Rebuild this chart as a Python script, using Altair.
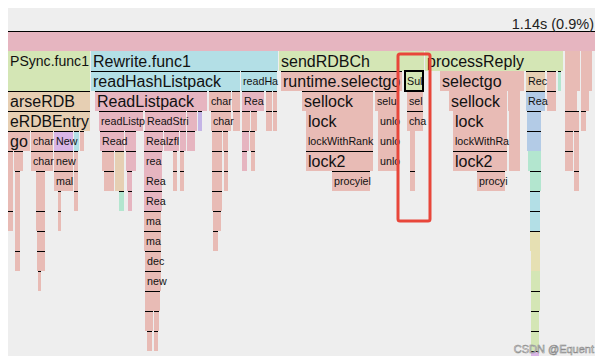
import altair as alt
import pandas as pd

# Flame-graph frames per depth: (start, end, label, package kind, separate call -> top line)
ROW0 = [(0, 597, "", "pk", 1)]
ROW1 = [(0, 90, "PSync.func1", "grn", 0), (91, 278, "Rewrite.func1", "blu", 0),
        (279, 424, "sendRDBCh", "grn", 0), (425, 563, "processReply", "grn", 0),
        (565, 580, "", "rt", 0), (581, 592, "", "rt", 0)]
ROW2 = [(0, 90, "", "grn", 0), (91, 240, "readHashListpack", "blu", 1), (241, 277, "readHa", "blu", 1),
        (281, 402, "runtime.selectgo", "rt", 1), (405, 423, "Sul", "grn", 1),
        (440, 524, "selectgo", "rt", 0), (526, 545, "Rec", "tan", 1), (547, 556, "", "rt", 1),
        (558, 561, "", "mint", 1), (565, 580, "", "rt", 0), (581, 592, "", "rt", 0)]
ROW3 = [(0, 90, "arseRDB", "tan", 1), (95, 207, "ReadListpack", "pk", 1), (209, 231, "char", "rt", 1),
        (232, 240, "", "rt", 1), (242, 264, "Rea", "pk", 1), (266, 272, "", "rt", 1), (273, 277, "", "rt", 1),
        (302, 373, "sellock", "rt", 1), (375, 397, "selu", "rt", 1), (407, 423, "sel", "rt", 1),
        (449, 507, "sellock", "rt", 0), (508, 520, "", "rt", 0), (526, 545, "Rea", "sky", 1),
        (547, 556, "", "rt", 1), (565, 577, "", "rt", 0), (581, 589, "", "rt", 0)]
ROW4 = [(0, 90, "eRDBEntry", "tan", 1), (99, 143, "readListp", "pk", 1), (145, 186, "ReadStri", "pk", 1),
        (187, 197, "", "pk", 1), (198, 202, "", "pur", 1), (211, 231, "char", "rt", 1),
        (233, 240, "", "rt", 1), (242, 250, "", "rt", 1), (251, 257, "", "rt", 1),
        (266, 272, "", "rt", 1), (273, 277, "", "rt", 1), (306, 373, "lock", "rt", 0),
        (378, 397, "unlo", "rt", 0), (407, 423, "cha", "rt", 1), (453, 507, "lock", "rt", 0),
        (509, 520, "", "rt", 0), (527, 541, "", "sky", 1), (565, 579, "", "rt", 1), (581, 586, "", "rt", 1)]
ROW5 = [(0, 30, "go", "rt", 1), (31, 53, "char", "rt", 1), (54, 73, "New", "lav", 1), (74, 79, "", "blu", 1),
        (80, 84, "", "rt", 1), (100, 124, "Read", "pk", 1), (125, 136, "", "pk", 1), (144, 163, "Rea", "pk", 1),
        (164, 179, "lzfl", "pk", 1), (180, 186, "", "pk", 1), (187, 195, "", "pk", 1), (212, 222, "", "rt", 1),
        (223, 228, "", "rt", 1), (242, 249, "", "pk", 1), (250, 255, "", "rt", 1),
        (306, 373, "lockWithRank", "rt", 0), (378, 397, "unlo", "rt", 0), (410, 415, "", "rt", 0),
        (453, 507, "lockWithRank", "rt", 0), (509, 520, "", "rt", 0), (527, 541, "", "sky", 1),
        (565, 573, "", "rt", 1), (574, 579, "", "rt", 1)]
ROW6 = [(0, 1, "", "rt", 1), (3, 13, "", "rt", 1), (14, 23, "", "rt", 1), (31, 53, "char", "rt", 1),
        (54, 73, "new", "rt", 1), (74, 78, "", "rt", 1), (102, 114, "", "rt", 1), (115, 124, "", "tan", 1),
        (126, 136, "", "pk", 1), (144, 162, "rea", "pk", 1), (173, 177, "", "rt", 1), (180, 184, "", "rt", 1),
        (212, 222, "", "rt", 1), (224, 228, "", "rt", 1), (242, 247, "", "pk", 1), (251, 255, "", "rt", 1),
        (306, 373, "lock2", "rt", 1), (378, 397, "unlo", "rt", 0), (410, 415, "", "rt", 0),
        (453, 507, "lock2", "rt", 1), (509, 520, "", "rt", 0), (528, 541, "", "mint", 0),
        (565, 573, "", "rt", 1), (574, 579, "", "rt", 0)]
ROW7 = [(0, 1, "", "rt", 1), (3, 13, "", "rt", 0), (15, 20, "", "rt", 1), (36, 45, "", "rt", 1),
        (54, 73, "mal", "rt", 1), (74, 78, "", "rt", 1), (104, 114, "", "rt", 1), (115, 124, "", "tan", 0),
        (127, 132, "", "pk", 1), (144, 162, "Rea", "pk", 0), (173, 177, "", "rt", 1), (180, 184, "", "rt", 1),
        (212, 222, "", "rt", 1), (224, 228, "", "rt", 1), (332, 370, "procyield", "rt", 1),
        (410, 415, "", "rt", 1), (477, 505, "procyield", "rt", 1), (530, 541, "", "mint", 1),
        (574, 579, "", "rt", 1)]
ROW8 = [(0, 1, "", "rt", 1), (3, 13, "", "rt", 0), (15, 20, "", "rt", 0), (36, 45, "", "rt", 0),
        (58, 61, "", "rt", 1), (74, 78, "", "rt", 1), (119, 124, "", "mint", 1), (128, 132, "", "pk", 1),
        (144, 162, "Rea", "pk", 1), (212, 222, "", "rt", 1), (530, 540, "", "blu", 1)]
ROW9 = [(0, 1, "", "rt", 1), (3, 13, "", "rt", 1), (15, 20, "", "rt", 0), (36, 45, "", "rt", 1),
        (58, 61, "", "rt", 1), (144, 161, "ma", "rt", 1), (213, 221, "", "rt", 1), (530, 540, "", "blu", 1)]
ROW10 = [(15, 20, "", "rt", 0), (37, 45, "", "rt", 1), (144, 161, "ma", "rt", 1), (213, 218, "", "rt", 1),
         (530, 540, "", "yel", 1)]
ROW11 = [(15, 20, "", "rt", 1), (37, 45, "", "rt", 1), (145, 161, "dec", "rt", 1), (531, 540, "", "yel", 0)]
ROW12 = [(38, 41, "", "rt", 1), (145, 161, "new", "rt", 1), (531, 540, "", "grn", 0)]
ROW13 = [(145, 160, "", "rt", 1), (531, 540, "", "grn", 1)]
ROW14 = [(145, 153, "", "rt", 1), (154, 159, "", "rt", 1), (531, 539, "", "grn", 1)]
ROW15 = [(147, 152, "", "rt", 1), (154, 158, "", "rt", 1), (531, 539, "", "grn", 1)]
ROW16 = [(531, 539, "", "lav", 1)]
ROWS = [ROW0, ROW1, ROW2, ROW3, ROW4, ROW5, ROW6, ROW7, ROW8, ROW9, ROW10,
        ROW11, ROW12, ROW13, ROW14, ROW15, ROW16]

SELECTED = (2, "Sul")
HEADER = "1.14s (0.9%)"
WATERMARK = "CSDN @Equent"
HIGHLIGHT = {"x0": 398, "x1": 430, "d0": 1.15, "d1": 9.5}

KIND_COLORS = {
    "pk": "#e6b5c0", "rt": "#e8bbb5", "grn": "#d4e6b5", "blu": "#b3dfe6", "tan": "#e6cfb3",
    "lav": "#d9b5e6", "sky": "#b3cbe6", "mint": "#b3e6cf", "yel": "#e6e0b3", "pur": "#c4b5e6",
}

# visible window of the graph (sample units)
X_LO, X_HI = 8, 595
D_LO, D_HI = -1.15, 16.25

# Arial-like advance widths (per 1000 em) for label fitting
AW = {c: 556 for c in "abdeghnopqu0123456789"}
AW.update({"c": 500, "k": 500, "s": 500, "v": 500, "x": 500, "y": 500, "z": 500,
           "f": 278, "t": 278, "i": 222, "j": 222, "l": 222, "r": 333, "m": 833, "w": 722,
           ".": 278, " ": 278, "(": 333, ")": 333, "%": 889, "@": 1015})
for ch in "ABEKPSVXY":
    AW[ch] = 667
for ch in "CDHNRU":
    AW[ch] = 722
AW.update({"F": 611, "T": 611, "Z": 611, "G": 778, "O": 778, "Q": 778, "I": 278, "J": 500,
           "L": 556, "M": 833, "W": 944})
BIG, SMALL = 16, 10.7


def text_w(s, fs):
    return sum(AW.get(c, 556) for c in s) * fs / 1000.0


def fit_label(label, width):
    if not label:
        return "", SMALL
    avail = width - 3
    if text_w(label, BIG) <= avail:
        fs = BIG
    elif width >= 80:
        fs = max(13.0, min(BIG, BIG * avail / text_w(label, BIG)))
    else:
        fs = SMALL
    out, cum = "", 0.0
    for c in label:
        w = AW.get(c, 556) * fs / 1000.0
        if cum + 0.3 * w > avail + 2:
            break
        out += c
        cum += w
    return out, fs


recs = []
for d, row in enumerate(ROWS):
    for (s, e, lab, kind, call) in row:
        lx = max(s, X_LO)
        shown, fs = fit_label(lab, e - lx)
        recs.append(dict(start=s, end=e, depth=d, depth2=d + 1, mid=d + 0.5, lx=lx, label=lab,
                         shown=shown, fs=fs, kind=kind, call=call,
                         sel=int((d, lab) == SELECTED)))
df = pd.DataFrame(recs)

W_PX, H_PX = X_HI - X_LO, 348
xs = alt.Scale(domain=[X_LO, X_HI], nice=False, zero=False)
ys = alt.Scale(domain=[D_LO, D_HI], reverse=True, nice=False, zero=False)

base = alt.Chart(df)
X = alt.X("start:Q", scale=xs, axis=None)
Y = alt.Y("depth:Q", scale=ys, axis=None)

boxes = base.mark_rect(clip=True).encode(
    x=X, x2="end:Q", y=Y, y2="depth2:Q",
    color=alt.Color("kind:N", scale=alt.Scale(domain=list(KIND_COLORS), range=list(KIND_COLORS.values())),
                    legend=None),
)
tops = base.transform_filter("datum.call == 1").mark_rule(color="#000000", strokeWidth=1, yOffset=0.5,
                                                           clip=True).encode(x=X, x2="end:Q", y=Y)
selbox = base.transform_filter("datum.sel == 1").mark_rect(filled=False, stroke="#000000", strokeWidth=2,
                                                           clip=True).encode(x=X, x2="end:Q", y=Y, y2="depth2:Q")
labels = base.transform_filter("datum.shown != ''").mark_text(
    align="left", baseline="middle", dx=2, dy=1, font="Liberation Sans", color="#111111", clip=True
).encode(x=alt.X("lx:Q", scale=xs, axis=None), y=alt.Y("mid:Q", scale=ys, axis=None),
         text="shown:N", size=alt.Size("fs:Q", scale=None))

hl = alt.Chart(pd.DataFrame([HIGHLIGHT])).mark_rect(filled=False, stroke="#e8463a", strokeWidth=3,
                                                    cornerRadius=2).encode(
    x=alt.X("x0:Q", scale=xs, axis=None), x2="x1:Q",
    y=alt.Y("d0:Q", scale=ys, axis=None), y2="d1:Q")

header = alt.Chart(pd.DataFrame({"t": [HEADER], "x": [594], "d": [-0.125]})).mark_text(
    align="right", baseline="alphabetic", font="Liberation Sans", fontSize=14.5, color="#222222"
).encode(x=alt.X("x:Q", scale=xs, axis=None), y=alt.Y("d:Q", scale=ys, axis=None), text="t:N")

wm = alt.Chart(pd.DataFrame({"t": [WATERMARK], "x": [594], "d": [16.1]})).mark_text(
    align="right", baseline="alphabetic", font="Liberation Sans", fontSize=11, color="#ffffff",
    stroke="#8a8a8a", strokeWidth=0.6
).encode(x=alt.X("x:Q", scale=xs, axis=None), y=alt.Y("d:Q", scale=ys, axis=None), text="t:N")

chart = alt.layer(boxes, tops, selbox, labels, hl, header, wm).properties(
    width=W_PX, height=H_PX, padding=0, autosize=alt.AutoSizeParams(type="none"),
    background="#eeeeee",
).configure_view(stroke=None)

chart.save("out.html", embed_options={"renderer": "svg", "actions": False})
